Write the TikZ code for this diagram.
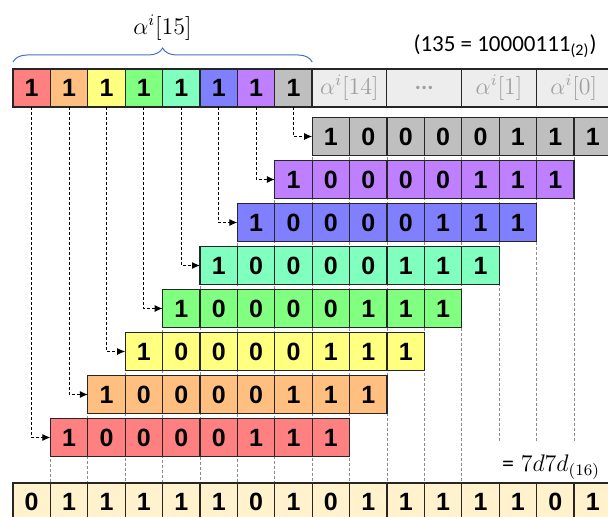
\documentclass[tikz,border=0pt]{standalone}
\usepackage{fontspec}
\setmainfont{Liberation Sans}
\newfontfamily\calibri{Carlito}
\usetikzlibrary{arrows.meta,decorations.pathreplacing}

\definecolor{cred}{RGB}{255,128,128}
\definecolor{corange}{RGB}{255,191,128}
\definecolor{cyellow}{RGB}{255,255,128}
\definecolor{cgreen}{RGB}{128,255,128}
\definecolor{cteal}{RGB}{128,255,191}
\definecolor{cblue}{RGB}{128,128,255}
\definecolor{cpurple}{RGB}{191,128,255}
\definecolor{cgray}{RGB}{191,191,191}
\definecolor{clight}{RGB}{237,237,237}
\definecolor{ccream}{RGB}{255,242,204}
\definecolor{ctext}{RGB}{160,160,160}
\definecolor{cbrace}{RGB}{68,114,196}

\tikzset{
  cell/.style={draw=black!85, line width=0.6pt, minimum width=18.7pt, minimum height=19pt,
    inner sep=0pt, outer sep=0pt, font=\fontsize{12.5}{14}\selectfont\bfseries},
  wide/.style={cell, minimum width=37.4pt, fill=clight, text=ctext, font=\fontsize{11.5}{13}\selectfont},
  link/.style={dash pattern=on 1.5pt off 1pt, line width=0.5pt, -{Latex[length=4pt,width=3.5pt]}},
  guide/.style={black!45, dash pattern=on 1.5pt off 1pt, line width=0.4pt},
}

\begin{document}
\begin{tikzpicture}[x=0.5pt,y=-0.5pt]
 \useasboundingbox (0,0) rectangle (608,517);
 \clip (0,0) rectangle (608,517);
 % column guides behind the shifted rows
 \foreach \k in {1,...,15}{
   \pgfmathsetmacro{\ytop}{117.5+43*(7-min(7,\k-1))}
   \pgfmathsetmacro{\ybot}{\k>12 ? 442 : 483}
   \draw[guide] ({13+37.4*\k},\ytop) -- ({13+37.4*\k},\ybot);
 }
 % alpha^i[15] split into its bits, then the other bytes
 \foreach \c [count=\i from 0] in {cred,corange,cyellow,cgreen,cteal,cblue,cpurple,cgray}
   \node[cell, fill=\c] (t\i) at ({31.7+37.4*\i},88) {1};
 \node[wide] (w14) at (349.4,88) {$\alpha^i[14]$};
 \node[wide] (wdots) at (424.2,88) {\calibri\bfseries ...};
 \node[wide] (w1) at (499,88) {$\alpha^i[1]$};
 \node[wide] (w0) at (573.8,88) {$\alpha^i[0]$};
 \draw[cbrace, line width=0.5pt, decorate, decoration={brace, amplitude=7pt}]
   ([yshift=3.5pt]t0.north west) -- ([yshift=3.5pt]t7.north east);
 \node (lab) at (162.5,28) {\fontsize{12}{14}\selectfont$\alpha^i[15]$};
 \node[font=\calibri\fontsize{11.5}{13}\selectfont] (dec) at (505,46) {(135 = 10000111\textsubscript{(2)})};
 % shifted copies of 135, one per bit
 \foreach \c [count=\i from 0] in {cred,corange,cyellow,cgreen,cteal,cblue,cpurple,cgray}{
   \foreach \b [count=\j from 0] in {1,0,0,0,0,1,1,1}
     \node[cell, fill=\c] (r\i-\j) at ({13+37.4*(\i+\j+1.5)},{136.5+43*(7-\i)}) {\b};
   \draw[link] (t\i.south) |- (r\i-0.west);
 }
 % xor of all rows
 \node (hex) at (551,467) {\fontsize{12}{14}\selectfont{\calibri =} $7d7d_{(16)}$};
 \foreach \b [count=\k from 0] in {0,1,1,1,1,1,0,1,0,1,1,1,1,1,0,1}
   \node[cell, fill=ccream] (s\k) at ({31.7+37.4*\k},502) {\b};
\end{tikzpicture}
\end{document}
